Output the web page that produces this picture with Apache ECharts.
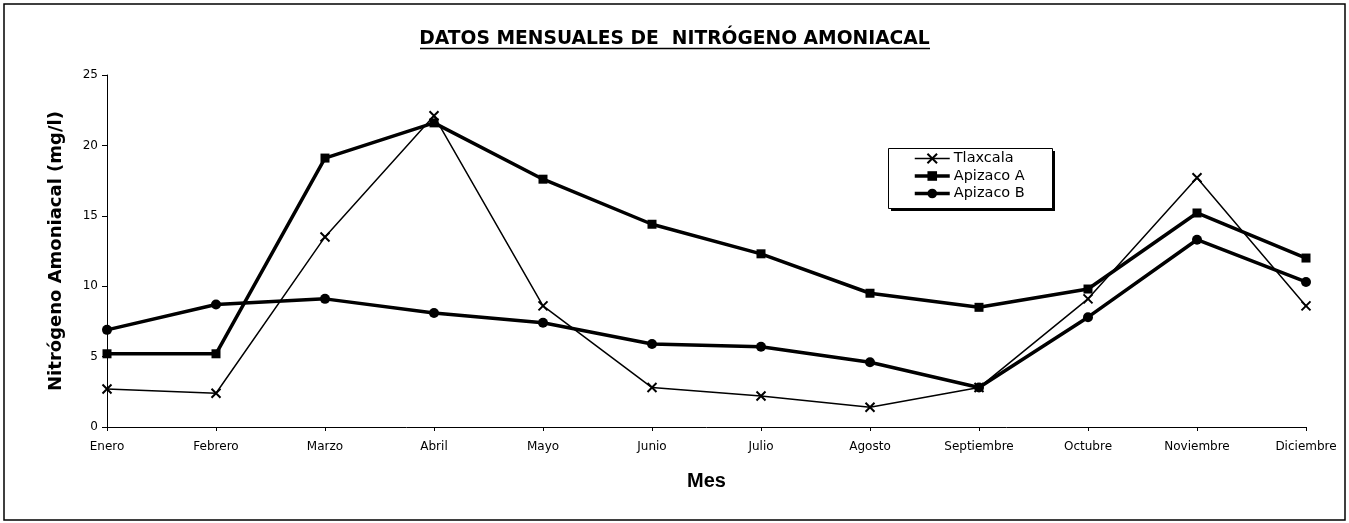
<!DOCTYPE html>
<html>
<head>
<meta charset="utf-8">
<script src="https://cdn.jsdelivr.net/npm/echarts@6/dist/echarts.min.js"></script>
<style>
  html, body { margin: 0; padding: 0; background: #fff; }
  #chart { width: 1349px; height: 523px; }
</style>
</head>
<body>
<div id="chart"></div>
<script>
// Monthly ammonia nitrogen readings (mg/l) at three stations
const months = ['Enero', 'Febrero', 'Marzo', 'Abril', 'Mayo', 'Junio', 'Julio', 'Agosto', 'Septiembre', 'Octubre', 'Noviembre', 'Diciembre'];
const tlaxcala  = [2.7, 2.4, 13.5, 22.1, 8.6, 2.8, 2.2, 1.4, 2.8, 9.1, 17.7, 8.6];
const apizacoA  = [5.2, 5.2, 19.1, 21.6, 17.6, 14.4, 12.3, 9.5, 8.5, 9.8, 15.2, 12.0];
const apizacoB  = [6.9, 8.7, 9.1, 8.1, 7.4, 5.9, 5.7, 4.6, 2.8, 7.8, 13.3, 10.3];
const seriesNames = ['Tlaxcala', 'Apizaco A', 'Apizaco B'];

const SANS = '"DejaVu Sans", Verdana, sans-serif';
const ARIAL = '"Liberation Sans", Arial, sans-serif';
const crossSymbol = 'path://M0,0L10,10M10,0L0,10';
const THIN = 1.5;
const THICK = 3.5;

const chart = echarts.init(document.getElementById('chart'), null, { renderer: 'canvas' });

chart.setOption({
  backgroundColor: '#fff',
  animation: false,
  title: {
    text: 'DATOS MENSUALES DE  NITRÓGENO AMONIACAL',
    left: 'center',
    top: 25,
    textStyle: { fontFamily: SANS, fontSize: 18.7, fontWeight: 'bold', color: '#000' }
  },
  graphic: [
    // outer frame
    { type: 'rect', shape: { x: 4, y: 4, width: 1341, height: 516 },
      style: { fill: 'none', stroke: '#000', lineWidth: 1.5 }, silent: true },
    // title underline
    { type: 'line', shape: { x1: 420, y1: 48.5, x2: 930, y2: 48.5 },
      style: { stroke: '#000', lineWidth: 1.5 }, silent: true },
    // legend drop shadow and box
    { type: 'rect', shape: { x: 891, y: 151, width: 164, height: 60 },
      style: { fill: '#000' }, silent: true },
    { type: 'rect', shape: { x: 888.5, y: 148.5, width: 164, height: 60 },
      style: { fill: '#fff', stroke: '#000', lineWidth: 1 }, silent: true }
  ],
  legend: {
    orient: 'vertical',
    left: 888,
    top: 148,
    data: [
      { name: seriesNames[0], lineStyle: { width: THIN } },
      { name: seriesNames[1], lineStyle: { width: THICK } },
      { name: seriesNames[2], lineStyle: { width: THICK } }
    ],
    itemWidth: 35,
    itemHeight: 12,
    itemGap: 2.5,
    padding: [3, 28, 4, 25],
    textStyle: { fontFamily: SANS, fontSize: 14.5, color: '#000', padding: [0, 0, 0, -1] }
  },
  grid: { left: 107, right: 43, top: 75, bottom: 96, containLabel: false },
  xAxis: {
    type: 'category',
    data: months,
    boundaryGap: false,
    name: 'Mes',
    nameLocation: 'middle',
    nameGap: 44,
    nameTextStyle: { fontFamily: ARIAL, fontSize: 20, fontWeight: 'bold', color: '#000' },
    axisLine: { lineStyle: { color: '#000', width: 1 } },
    axisTick: { alignWithLabel: true, length: 4, lineStyle: { color: '#000' } },
    axisLabel: { fontFamily: SANS, fontSize: 12, color: '#000', margin: 14, interval: 0 }
  },
  yAxis: {
    type: 'value',
    min: 0,
    max: 25,
    interval: 5,
    name: 'Nitrógeno Amoniacal (mg/l)',
    nameLocation: 'middle',
    nameGap: 42,
    nameTextStyle: { fontFamily: SANS, fontSize: 18, fontWeight: 'bold', color: '#000' },
    axisLine: { show: true, lineStyle: { color: '#000', width: 1 } },
    axisTick: { show: true, length: 5, lineStyle: { color: '#000' } },
    splitLine: { show: false },
    axisLabel: { fontFamily: SANS, fontSize: 12, color: '#000', margin: 9 }
  },
  series: [
    {
      name: seriesNames[0], type: 'line', data: tlaxcala,
      symbol: crossSymbol, symbolSize: 9,
      itemStyle: { color: '#000', borderColor: '#000', borderWidth: 2 },
      lineStyle: { color: '#000', width: THIN }
    },
    {
      name: seriesNames[1], type: 'line', data: apizacoA,
      symbol: 'rect', symbolSize: 9,
      itemStyle: { color: '#000' },
      lineStyle: { color: '#000', width: THICK }
    },
    {
      name: seriesNames[2], type: 'line', data: apizacoB,
      symbol: 'circle', symbolSize: 10,
      itemStyle: { color: '#000' },
      lineStyle: { color: '#000', width: THICK }
    }
  ]
});
</script>
</body>
</html>
